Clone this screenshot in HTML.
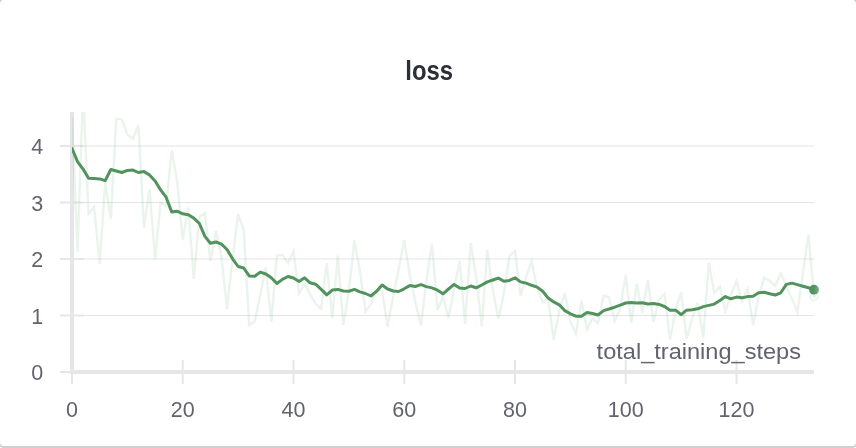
<!DOCTYPE html>
<html><head><meta charset="utf-8"><title>loss</title>
<style>
html,body{margin:0;padding:0;background:#fff;}
body{width:856px;height:448px;overflow:hidden;position:relative;font-family:"Liberation Sans",sans-serif;}
.card{position:absolute;left:-2px;top:-2px;width:856px;height:446px;border:2px solid #d0d0d0;border-radius:6px;background:#fff;}
svg{position:absolute;left:0;top:0;}
.t{font-family:"Liberation Sans",sans-serif;}
</style></head><body>
<div class="card"></div>
<svg width="856" height="448" viewBox="0 0 856 448">
<defs><clipPath id="c"><rect x="72" y="112" width="760" height="262"/></clipPath>
<linearGradient id="dg" x1="0" x2="1" y1="0" y2="0"><stop offset="0.45" stop-color="#52935d"/><stop offset="1" stop-color="#78ad82"/></linearGradient></defs>
<line x1="84" y1="315.5" x2="814" y2="315.5" stroke="#e3e4e6" stroke-width="1"/><line x1="84" y1="259.0" x2="814" y2="259.0" stroke="#e3e4e6" stroke-width="1"/><line x1="84" y1="202.5" x2="814" y2="202.5" stroke="#e3e4e6" stroke-width="1"/><line x1="84" y1="146.0" x2="814" y2="146.0" stroke="#e3e4e6" stroke-width="1"/>
<line x1="60" y1="372.0" x2="84" y2="372.0" stroke="#e6e6e9" stroke-width="2"/><line x1="60" y1="315.5" x2="84" y2="315.5" stroke="#e6e6e9" stroke-width="2"/><line x1="60" y1="259.0" x2="84" y2="259.0" stroke="#e6e6e9" stroke-width="2"/><line x1="60" y1="202.5" x2="84" y2="202.5" stroke="#e6e6e9" stroke-width="2"/><line x1="60" y1="146.0" x2="84" y2="146.0" stroke="#e6e6e9" stroke-width="2"/><line x1="72.0" y1="360" x2="72.0" y2="384" stroke="#e6e6e9" stroke-width="2"/><line x1="182.7" y1="360" x2="182.7" y2="384" stroke="#e6e6e9" stroke-width="2"/><line x1="293.5" y1="360" x2="293.5" y2="384" stroke="#e6e6e9" stroke-width="2"/><line x1="404.2" y1="360" x2="404.2" y2="384" stroke="#e6e6e9" stroke-width="2"/><line x1="515.0" y1="360" x2="515.0" y2="384" stroke="#e6e6e9" stroke-width="2"/><line x1="625.7" y1="360" x2="625.7" y2="384" stroke="#e6e6e9" stroke-width="2"/><line x1="736.5" y1="360" x2="736.5" y2="384" stroke="#e6e6e9" stroke-width="2"/>
<rect x="70" y="112" width="4" height="262" fill="#e6e6e9"/>
<rect x="70" y="370" width="744" height="4" fill="#e6e6e9"/>
<g clip-path="url(#c)">
<polyline points="72.0,117.0 77.5,251.7 83.1,90.0 88.6,214.0 94.1,206.5 99.7,264.0 105.2,182.5 110.8,219.0 116.3,118.7 121.8,119.4 127.4,134.7 132.9,138.8 138.4,125.2 144.0,228.0 149.5,189.0 155.1,259.3 160.6,202.5 166.1,206.0 171.7,150.4 177.2,181.5 182.7,240.0 188.3,207.5 193.8,279.0 199.4,217.0 204.9,213.0 210.4,260.8 216.0,231.0 221.5,257.0 227.0,309.0 232.6,259.0 238.1,214.0 243.7,229.5 249.2,325.0 254.7,321.2 260.3,295.0 265.8,267.5 271.3,321.9 276.9,255.5 282.4,254.7 288.0,263.3 293.5,251.2 299.0,293.5 304.6,283.8 310.1,294.4 315.6,303.8 321.2,308.8 326.7,263.1 332.3,318.1 337.8,255.6 343.3,325.0 348.9,291.0 354.4,240.5 359.9,271.0 365.5,311.5 371.0,304.0 376.6,291.0 382.1,290.0 387.6,326.9 393.2,296.0 398.7,269.4 404.2,240.0 409.8,275.0 415.3,301.6 420.9,325.6 426.4,281.0 431.9,243.8 437.5,310.0 443.0,296.2 448.5,318.1 454.1,289.0 459.6,261.2 465.1,324.0 470.7,243.0 476.2,277.0 481.8,326.2 487.3,250.0 492.8,290.0 498.4,318.8 503.9,293.0 509.4,256.4 515.0,250.8 520.5,296.2 526.1,277.0 531.6,261.4 537.1,288.0 542.7,302.5 548.2,298.8 553.7,340.0 559.3,310.6 564.8,293.1 570.4,322.0 575.9,333.8 581.4,300.6 587.0,329.4 592.5,318.1 598.0,323.1 603.6,295.6 609.1,297.5 614.7,321.2 620.2,309.0 625.7,275.0 631.3,323.0 636.8,283.9 642.3,312.7 647.9,280.0 653.4,322.0 659.0,299.5 664.5,293.9 670.0,339.4 675.6,310.0 681.1,292.0 686.6,338.8 692.2,318.8 697.7,303.0 703.3,337.5 708.8,262.6 714.3,293.0 719.9,286.8 725.4,311.0 730.9,295.0 736.5,281.0 742.0,301.0 747.6,288.5 753.1,325.0 758.6,296.8 764.2,277.5 769.7,281.0 775.2,285.5 780.8,273.5 786.3,285.5 791.9,298.6 797.4,311.8 802.9,273.0 808.5,234.4 814.0,296.9" fill="none" stroke="#479a5f" stroke-opacity="0.115" stroke-width="2.4" stroke-linejoin="miter"/>
</g>
<circle cx="814" cy="296.9" r="4.2" fill="#479a5f" fill-opacity="0.05" stroke="#479a5f" stroke-opacity="0.09" stroke-width="1.4"/>
<g clip-path="url(#c)">
<polyline points="72.0,148.5 77.5,161.6 83.1,169.1 88.6,178.2 94.1,178.5 99.7,178.9 105.2,180.6 110.8,169.5 116.3,171.0 121.8,172.5 127.4,170.4 132.9,170.1 138.4,172.5 144.0,171.6 149.5,174.9 155.1,181.0 160.6,189.9 166.1,197.2 171.7,211.9 177.2,211.2 182.7,213.8 188.3,214.8 193.8,218.1 199.4,223.5 204.9,236.4 210.4,243.2 216.0,242.0 221.5,244.2 227.0,249.5 232.6,258.8 238.1,266.5 243.7,268.0 249.2,275.9 254.7,276.2 260.3,272.1 265.8,274.0 271.3,277.8 276.9,283.5 282.4,279.4 288.0,276.5 293.5,278.0 299.0,281.5 304.6,277.8 310.1,282.8 315.6,284.2 321.2,289.4 326.7,294.9 332.3,290.1 337.8,289.4 343.3,291.0 348.9,291.2 354.4,289.4 359.9,291.9 365.5,293.5 371.0,296.0 376.6,291.2 382.1,285.0 387.6,289.0 393.2,291.0 398.7,291.5 404.2,288.8 409.8,285.6 415.3,286.5 420.9,284.6 426.4,286.6 431.9,287.9 437.5,290.2 443.0,293.8 448.5,289.0 454.1,284.4 459.6,287.9 465.1,288.5 470.7,286.0 476.2,287.8 481.8,285.0 487.3,281.9 492.8,280.0 498.4,278.1 503.9,281.2 509.4,280.4 515.0,277.8 520.5,281.9 526.1,283.1 531.6,285.3 537.1,287.1 542.7,291.2 548.2,298.1 553.7,301.9 559.3,304.8 564.8,310.6 570.4,313.8 575.9,316.2 581.4,316.2 587.0,312.5 592.5,313.5 598.0,315.0 603.6,310.6 609.1,309.0 614.7,307.2 620.2,305.2 625.7,303.0 631.3,302.6 636.8,302.9 642.3,302.8 647.9,304.0 653.4,303.5 659.0,304.4 664.5,306.5 670.0,310.2 675.6,310.2 681.1,314.6 686.6,310.2 692.2,309.8 697.7,308.8 703.3,306.6 708.8,305.4 714.3,304.1 719.9,300.4 725.4,296.6 730.9,298.8 736.5,297.1 742.0,297.8 747.6,296.6 753.1,296.2 758.6,292.8 764.2,292.2 769.7,293.8 775.2,295.0 780.8,292.8 786.3,284.4 791.9,283.1 797.4,284.6 802.9,286.2 808.5,287.8 814.0,289.6" fill="none" stroke="#52935d" stroke-width="3" stroke-linejoin="round" stroke-linecap="round"/>
</g>
<circle cx="814" cy="289.7" r="4.9" fill="url(#dg)"/>
<g class="t" font-size="21.5" fill="#62636f"><text x="43.3" y="380.1" text-anchor="end">0</text><text x="43.3" y="323.6" text-anchor="end">1</text><text x="43.3" y="267.1" text-anchor="end">2</text><text x="43.3" y="210.6" text-anchor="end">3</text><text x="43.3" y="154.1" text-anchor="end">4</text><text x="72.0" y="417" text-anchor="middle">0</text><text x="182.7" y="417" text-anchor="middle">20</text><text x="293.5" y="417" text-anchor="middle">40</text><text x="404.2" y="417" text-anchor="middle">60</text><text x="515.0" y="417" text-anchor="middle">80</text><text x="625.7" y="417" text-anchor="middle">100</text><text x="736.5" y="417" text-anchor="middle">120</text></g>
<text class="t" x="801" y="359.5" text-anchor="end" font-size="21.5" fill="#62636f" transform="translate(801 0) scale(1.097 1) translate(-801 0)">total_training_steps</text>
<text class="t" x="429.2" y="79.8" text-anchor="middle" font-size="27" font-weight="bold" fill="#2b3038" transform="translate(429.2 0) scale(0.885 1) translate(-429.2 0)">loss</text>
</svg>
</body></html>
